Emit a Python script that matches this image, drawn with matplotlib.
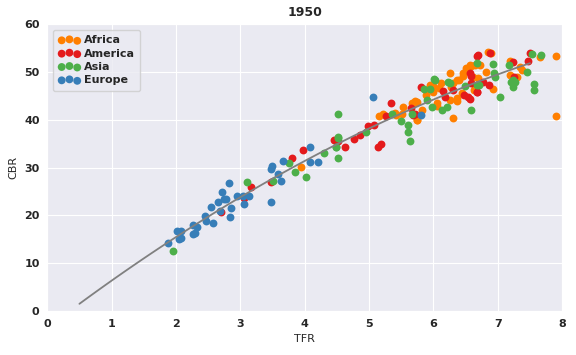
import numpy as np
import matplotlib
matplotlib.use('Agg')
import matplotlib.pyplot as plt
import seaborn as sns

# TFR / CBR per country, 1950, grouped by continent
africa_tfr = [3.94, 5.16, 5.22, 5.40, 5.42, 5.51, 5.53, 5.69, 5.74, 5.74, 5.66, 5.71, 5.82, 5.75,
              6.00, 6.08, 6.11, 5.99, 5.89, 5.95, 6.05, 6.06, 6.26, 6.37, 6.36, 6.30, 6.46, 6.44,
              6.54, 6.59, 6.65, 6.28, 6.31, 6.36, 6.39, 6.51, 6.57, 6.72, 6.85, 6.90, 6.62, 6.70,
              6.82, 6.65, 6.63, 6.92, 7.19, 7.34, 7.37, 7.30, 7.19, 7.66, 7.91, 7.91, 6.26, 6.46]
africa_cbr = [30.2, 40.8, 41.1, 41.5, 41.0, 41.1, 42.6, 43.4, 43.8, 39.9, 43.4, 44.0, 42.0, 40.0,
              47.0, 46.6, 47.6, 45.9, 45.2, 47.3, 43.4, 42.9, 44.1, 44.5, 44.0, 40.3, 49.1, 45.5,
              50.9, 51.2, 51.4, 46.9, 47.6, 48.3, 48.4, 50.9, 51.4, 51.4, 54.2, 53.9, 49.0, 48.7,
              50.0, 46.6, 46.2, 46.4, 52.3, 51.1, 50.4, 49.0, 49.3, 53.2, 53.3, 40.8, 49.7, 49.7]

america_tfr = [2.70, 3.05, 3.16, 3.47, 3.80, 3.98, 4.45, 4.52, 4.62, 4.76, 4.86, 4.98, 5.07, 5.14,
               5.19, 5.34, 5.27, 5.65, 5.80, 5.71, 5.68, 6.15, 6.18, 6.31, 6.48, 6.54, 6.58, 6.67,
               6.59, 6.68, 6.88, 6.57, 6.57, 6.68, 6.77, 6.87, 7.23, 7.25, 7.47, 7.50, 6.69]
america_cbr = [20.8, 23.6, 25.9, 26.9, 32.1, 33.7, 35.8, 35.5, 34.2, 36.0, 36.8, 38.7, 38.9, 34.4,
               34.9, 43.4, 40.8, 42.4, 46.9, 41.2, 41.0, 46.1, 44.7, 46.2, 45.2, 44.7, 49.1, 45.9,
               47.6, 53.3, 53.9, 49.7, 44.3, 45.9, 48.0, 47.2, 52.1, 48.9, 52.3, 53.9, 53.5]

asia_tfr = [1.95, 3.10, 3.51, 3.76, 3.85, 4.02, 4.30, 4.48, 4.51, 4.52, 4.51, 4.49, 4.52, 4.96,
            5.35, 5.50, 5.60, 5.60, 5.64, 5.66, 5.90, 5.98, 6.01, 5.86, 5.94, 6.13, 6.21, 6.23,
            6.25, 6.49, 6.59, 6.67, 6.71, 6.92, 6.94, 6.96, 6.67, 7.03, 7.18, 7.20, 7.24, 7.23,
            7.27, 7.45, 7.53, 7.67, 7.57, 7.57, 6.02]
asia_cbr = [12.6, 26.9, 27.2, 31.0, 29.0, 28.0, 33.0, 34.2, 36.1, 32.1, 41.3, 34.4, 36.3, 37.5,
            41.1, 39.8, 39.0, 37.5, 35.6, 41.3, 44.1, 42.7, 48.6, 46.4, 46.4, 42.0, 42.7, 47.9,
            47.6, 47.0, 42.0, 47.3, 47.3, 51.6, 49.7, 48.9, 51.9, 44.8, 51.4, 48.0, 48.4, 46.8,
            47.8, 49.9, 53.7, 53.5, 47.5, 46.2, 48.4]

europe_tfr = [1.87, 2.01, 2.08, 2.05, 2.08, 2.26, 2.30, 2.27, 2.33, 2.45, 2.46, 2.58, 2.54, 2.69,
              2.66, 2.75, 2.78, 2.71, 2.86, 2.84, 2.82, 2.95, 3.04, 3.13, 3.05, 3.49, 3.48, 3.59,
              3.63, 3.67, 3.48, 4.09, 4.08, 4.21, 5.06, 5.80]
europe_cbr = [14.2, 16.8, 16.8, 15.0, 15.2, 16.2, 16.4, 18.0, 17.5, 19.9, 18.9, 18.5, 21.7, 21.0,
              22.7, 23.4, 23.4, 24.9, 21.5, 19.7, 26.7, 24.1, 24.0, 24.1, 22.4, 30.4, 29.6, 28.6,
              27.2, 31.4, 22.9, 34.2, 31.2, 31.2, 44.7, 41.0]

# quadratic trend CBR = c0 + c1*TFR + c2*TFR^2, drawn over TFR 0.5..7.5
fit_coef = [-0.385, 10.27, -3.54]
fit_range = (0.5, 7.5)

groups = [('Africa', africa_tfr, africa_cbr, '#ff7f00'),
          ('America', america_tfr, america_cbr, '#e41a1c'),
          ('Asia', asia_tfr, asia_cbr, '#4daf4a'),
          ('Europe', europe_tfr, europe_cbr, '#377eb8')]

sns.set_style('darkgrid')
fig, ax = plt.subplots(figsize=(5.76, 3.55), dpi=100)
fig.subplots_adjust(left=0.082, right=0.976, top=0.932, bottom=0.124)

for name, x, y, c in groups:
    ax.scatter(x, y, s=32, color=c, linewidths=0, label=name)

xs = np.linspace(fit_range[0], fit_range[1], 100)
ax.plot(xs, np.polyval(fit_coef, xs), color='gray', lw=1.3, zorder=5)

ax.set_xlim(0, 8)
ax.set_ylim(0, 60)
ax.set_xlabel('TFR', fontsize=8)
ax.set_ylabel('CBR', fontsize=8)
ax.set_title('1950', fontsize=9, fontweight='bold')
for lab in ax.get_xticklabels() + ax.get_yticklabels():
    lab.set_fontsize(8)
    lab.set_fontweight('bold')
ax.tick_params(pad=2)

ax.legend(loc='upper left', frameon=True, scatterpoints=3, prop={'weight': 'bold', 'size': 8},
          handletextpad=0.3, borderpad=0.5, labelspacing=0.3)

fig.savefig('out.png', dpi=100)
